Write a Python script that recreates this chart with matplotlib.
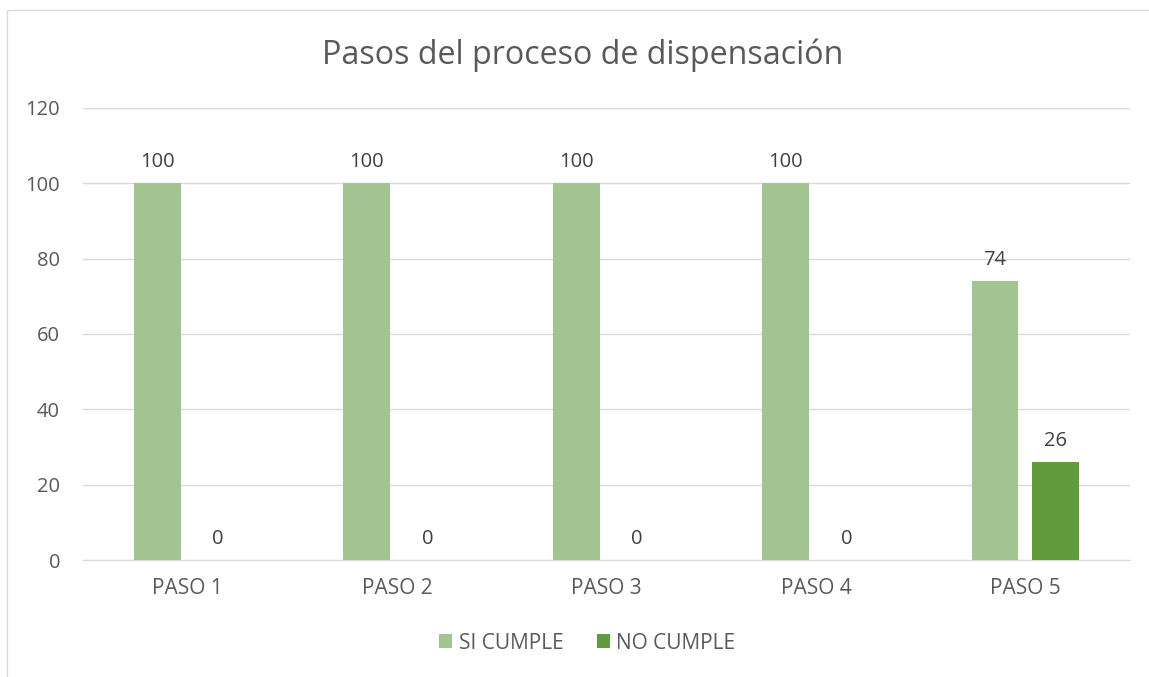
import numpy as np
import matplotlib.pyplot as plt
from matplotlib.patches import Rectangle

# Data
pasos = ['PASO 1', 'PASO 2', 'PASO 3', 'PASO 4', 'PASO 5']
si_cumple = [100, 100, 100, 100, 74]
no_cumple = [0, 0, 0, 0, 26]

c_si = '#A2C490'
c_no = '#629A3E'
txt = '#595959'

plt.rcParams['font.family'] = ['Open Sans', 'DejaVu Sans']

fig = plt.figure(figsize=(11.49, 6.77), dpi=100)
fig.patches.append(Rectangle((0.006, -0.1), 1.2, 1.085, transform=fig.transFigure,
                             fill=False, edgecolor='#D9D9D9', linewidth=1))
ax = fig.add_axes([0.0722, 0.1728, 0.9113, 0.6677])

x = np.arange(len(pasos))
w = 0.224
b1 = ax.bar(x - 0.145, si_cumple, w, color=c_si, label='SI CUMPLE', zorder=3)
b2 = ax.bar(x + 0.145, no_cumple, w, color=c_no, label='NO CUMPLE', zorder=3)
for bars in (b1, b2):
    ax.bar_label(bars, padding=8, fontsize=14.5, color='#404040')

ax.set_xlim(-0.5, 4.5)
ax.set_ylim(0, 120)
ax.set_yticks(range(0, 121, 20))
ax.set_xticks(x)
ax.set_xticklabels(pasos)
ax.yaxis.grid(True, color='#D9D9D9', linewidth=1, zorder=0)
for s in ['top', 'right', 'left']:
    ax.spines[s].set_visible(False)
ax.spines['bottom'].set_color('#D9D9D9')
ax.tick_params(axis='both', length=0, labelcolor=txt)
ax.tick_params(axis='y', pad=16.5, labelsize=14.5)
ax.tick_params(axis='x', pad=13, labelsize=15)

fig.text(0.507, 0.919, 'Pasos del proceso de dispensación', ha='center', va='center',
         fontsize=23.2, color=txt)
fig.legend(loc='center', bbox_to_anchor=(0.511, 0.05), ncol=2, frameon=False,
           fontsize=15, labelcolor=txt, handlelength=0.65, handleheight=0.65,
           handletextpad=0.3, columnspacing=1.6)

fig.savefig('out.png', dpi=100)
